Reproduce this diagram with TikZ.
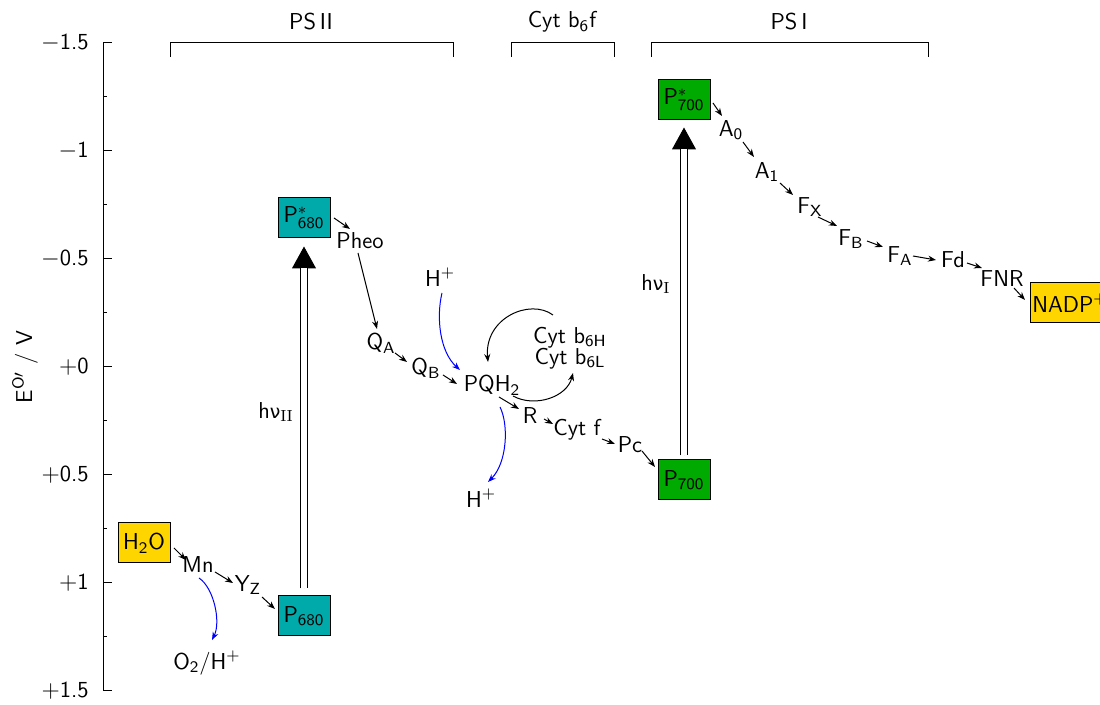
\documentclass[tikz,border=0pt]{standalone}
\usepackage{fontspec}
\newfontfamily\dejavu[Scale=0.82]{DejaVu Sans}
\usetikzlibrary{arrows.meta,calc}
\definecolor{psgold}{RGB}{255,213,0}
\definecolor{psteal}{RGB}{0,170,170}
\definecolor{psgreen}{RGB}{0,170,0}
\begin{document}
\begin{tikzpicture}[x=0.5pt,y=-0.5pt,
  every node/.style={font=\sffamily\fontsize{11.5}{13}\selectfont},
  lbl/.style={inner sep=1pt},
  pbox/.style={draw=black, line width=0.5pt, minimum width=26pt, minimum height=20pt, inner sep=0pt},
  e/.style={-{Stealth[length=4pt,width=3pt]}, line width=0.5pt},
  blu/.style={e, draw=blue},
  bigtip/.style={line width=0.5pt, -{Triangle[length=11pt,width=12pt]}},
  bigline/.style={line width=0.5pt, double, double distance=2.6pt, shorten >=10.8pt},
  axis/.style={line width=0.5pt},
  brack/.style={line width=0.5pt}
]
\useasboundingbox (0,0) rectangle (1100,705);

% axis
\draw[axis] (103,43) -- (103,691);
\foreach \y/\lab [count=\i] in {43/$-$1.5, 151/$-$1, 259/$-$0.5, 367/$+$0, 475/$+$0.5, 583/$+$1, 691/$+$1.5}{
  \draw[axis] (103,\y) -- (112,\y);
  \node[anchor=east, inner sep=0pt] (tick\i) at (89,\y) {\lab};
}
\foreach \y in {97,205,313,421,529,637}{
  \draw[axis] (103,\y) -- (107,\y);
}
\node[rotate=90] (ylab) at (25,367) {E$^{\mathsf{O}\prime}$ / V};

% headers
\node (hPSII) at (311,22) {PS\,II};
\draw[brack] (170,57) -- (170,43) -- (453,43) -- (453,57);
\node (hCyt) at (562,22) {Cyt b$_{\mathsf{6}}$f};
\draw[brack] (511,57) -- (511,43) -- (614,43) -- (614,57);
\node (hPSI) at (789,22) {PS\,I};
\draw[brack] (651,57) -- (651,43) -- (928,43) -- (928,57);

% nodes
\node[pbox, fill=psgold] (H2O) at (144,543) {H$_{\mathsf{2}}$O};
\node[lbl] (Mn) at (198,565) {Mn};
\node[lbl] (Yz) at (248,585) {Y$_{\mathsf{Z}}$};
\node[pbox, fill=psteal] (P680) at (304,616) {P$_{\mathsf{680}}$};
\node[lbl] (O2) at (207,663) {O$_{\mathsf{2}}$/H$^{+}$};
\node[pbox, fill=psteal] (P680s) at (304,218) {P$^{*}_{\mathsf{680}}$};
\node[lbl] (hvII) at (276,412) {h{\dejavu ν}$_{\mathrm{II}}$};
\node[lbl] (Pheo) at (360,241) {Pheo};
\node[lbl] (QA) at (381,343) {Q$_{\mathsf{A}}$};
\node[lbl] (QB) at (426,368) {Q$_{\mathsf{B}}$};
\node[lbl] (PQH2) at (492,385) {PQH$_{\mathsf{2}}$};
\node[lbl] (Hin) at (440,277) {H$^{+}$};
\node[lbl, align=center] (Cytb) at (570,348) {Cyt b$_{\mathsf{6H}}$\\[-2.5pt]Cyt b$_{\mathsf{6L}}$};
\node[lbl] (R) at (530,416) {R};
\node[lbl] (Cytf) at (577,430) {Cyt f};
\node[lbl] (Pc) at (630,445) {Pc};
\node[pbox, fill=psgreen] (P700) at (684,480) {P$_{\mathsf{700}}$};
\node[lbl] (Hout) at (481,498) {H$^{+}$};
\node[pbox, fill=psgreen] (P700s) at (684,100) {P$^{*}_{\mathsf{700}}$};
\node[lbl] (hvI) at (656,284) {h{\dejavu ν}$_{\mathrm{I}}$};
\node[lbl] (A0) at (731,130) {A$_{\mathsf{0}}$};
\node[lbl] (A1) at (767,172) {A$_{\mathsf{1}}$};
\node[lbl] (FX) at (810,207) {F$_{\mathsf{X}}$};
\node[lbl] (FB) at (851,239) {F$_{\mathsf{B}}$};
\node[lbl] (FA) at (900,256) {F$_{\mathsf{A}}$};
\node[lbl] (Fd) at (953,260) {Fd};
\node[lbl] (FNR) at (1002,279) {FNR};
\node[pbox, fill=psgold, minimum width=40pt] (NADP) at (1070,303) {NADP$^{+}$};

% light-driven excitations
\draw[bigtip] ($(P680.north)+(0,-7)$) -- ($(P680s.south)+(0,8)$);
\draw[bigline] ($(P680.north)+(0,-7)$) -- ($(P680s.south)+(0,8)$);
\draw[bigtip] ($(P700.north)+(0,-4)$) -- ($(P700s.south)+(0,7)$);
\draw[bigline] ($(P700.north)+(0,-4)$) -- ($(P700s.south)+(0,7)$);

% electron transfer chain
\draw[e] ($(H2O)+(30,5)$) -- ($(Mn)+(-12,-5)$);
\draw[e] ($(Mn)+(17,7)$) -- ($(Yz)+(-15,-2)$);
\draw[e] ($(Yz)+(14,12)$) -- ($(P680)+(-29,-7)$);
\draw[e] ($(P680s)+(30,0)$) -- ($(Pheo)+(-10,-12)$);
\draw[e] ($(Pheo)+(-2,12)$) -- ($(QA)+(-4,-14)$);
\draw[e] ($(QA)+(14,10)$) -- ($(QB)+(-19,-6)$);
\draw[e] ($(QB)+(17,7)$) -- ($(PQH2)+(-35,-1)$);
\draw[e] ($(PQH2)+(7,12)$) -- ($(R)+(-11,-7)$);
\draw[e] ($(R)+(14,3)$) -- ($(Cytf)+(-24,-6)$);
\draw[e] ($(Cytf)+(25,9)$) -- ($(Pc)+(-15,-1)$);
\draw[e] ($(Pc)+(12,6)$) -- ($(P700)+(-29,-13)$);
\draw[e] ($(P700s)+(29,3)$) -- ($(A0)+(-9,-14)$);
\draw[e] ($(A0)+(12,12)$) -- ($(A1)+(-13,-15)$);
\draw[e] ($(A1)+(13,11)$) -- ($(FX)+(-17,-12)$);
\draw[e] ($(FX)+(8,10)$) -- ($(FB)+(-14,-13)$);
\draw[e] ($(FB)+(16,2)$) -- ($(FA)+(-17,-9)$);
\draw[e] ($(FA)+(13,0)$) -- ($(Fd)+(-17,0)$);
\draw[e] ($(Fd)+(14,3)$) -- ($(FNR)+(-20,-11)$);
\draw[e] ($(FNR)+(12,9)$) -- ($(NADP)+(-45,-3)$);

% Q cycle
\draw[e] ($(Cytb)+(-17,-33)$) .. controls (530,298) and (484,318) .. ($(PQH2)+(-4,-23)$);
\draw[e] ($(PQH2)+(21,11)$) .. controls (535,408) and (567,397) .. ($(Cytb)+(3,25)$);

% protons
\draw[blu] ($(Mn)+(1,13)$) .. controls (214,588) and (221,622) .. ($(O2)+(5,-23)$);
\draw[blu] ($(Hin)+(2,16)$) .. controls (436,318) and (440,352) .. ($(PQH2)+(-32,-15)$);
\draw[blu] ($(PQH2)+(8,22)$) .. controls (509,425) and (507,463) .. ($(Hout)+(7,-16)$);
\end{tikzpicture}
\end{document}
